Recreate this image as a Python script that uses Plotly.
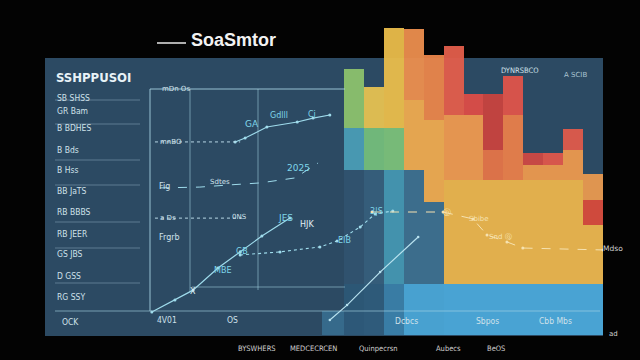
import plotly.graph_objects as go

W, H = 640, 360

# ---------------- data ----------------
categories = ["C01", "C02", "C03", "C04", "C05", "C06", "C07", "C08", "C09", "C10", "C11", "C12", "C13"]
seg_base = [10, 10, 10, 10, 10, 10, 10, 10, 10, 10, 10, 10, 10]
seg_low = [22.2, 22.2, 22.2, 22.2, 16.0, 20.3, 20.3, 20.3, 20.3, 20.3, 20.3, 20.3, 11.5]
seg_mid = [8.3, 8.3, 8.3, 13.7, 16.0, 12.7, 12.7, 5.9, 12.7, 2.9, 2.9, 5.9, 4.9]
seg_top = [11.5, 8.0, 19.5, 13.9, 12.7, 13.5, 4.1, 10.9, 7.6, 2.4, 2.4, 4.1, 5.1]

col_base = ["#2d5877", "#2f5b7b", "#3a7fa8", "#4aa6d6", "#4aa6d6", "#4ba8da", "#4ba8da", "#4ba8da",
            "#4ba8da", "#4ba8da", "#4ba8da", "#4ba8da", "#4ba8da"]
col_low = ["#31536f", "#365f7c", "#4596b2", "#3d6f8f", "#3d6f8f", "#ebb54c", "#ebb54c", "#ebb54c",
           "#ebb54c", "#ebb54c", "#ebb54c", "#ebb54c", "#ebb54c"]
col_mid = ["#4a9db6", "#74bd7c", "#7cc07a", "#eeaa50", "#eeaa50", "#ee9a4f", "#ee9a4f", "#e57548",
           "#e97f4a", "#ec9a4e", "#ec9a4e", "#ec9a4e", "#d84a3c"]
col_top = ["#8cc26d", "#e6c252", "#eabd4b", "#ec8f4e", "#ea854a", "#e35e4b", "#dc4d47", "#c8433f",
           "#e0544a", "#cf4844", "#e0574b", "#e05a4b", "#e99a50"]

# line series (x: 0-100 time index, y: 0-100 value)
l1_x = [0.4, 5.5, 9.5, 15.0, 19.9, 24.7, 30.9]
l1_y = [8.3, 12.6, 16.2, 24.2, 30.0, 35.7, 42.2]
l2_x = [19.9, 28.7, 37.5, 41.3, 46.4, 49.7, 53.6]
l2_y = [28.9, 30.0, 31.8, 33.9, 39.0, 43.7, 44.8]
l3_x = [18.8, 21.0, 25.8, 32.5, 36.0, 39.7]
l3_y = [69.7, 71.1, 75.1, 76.9, 78.3, 79.4]
l4_x = [2.2, 11.0, 17.7, 24.3, 32.0, 37.1]
l4_y = [53.1, 53.4, 54.2, 54.9, 56.7, 62.1]
l5_x = [39.7, 43.5, 50.8, 59.2]
l5_y = [5.4, 10.8, 22.7, 35.4]
l6_x = [49.0, 64.7, 71.3, 74.4, 78.8, 82.3, 100.0]
l6_y = [44.4, 44.4, 41.9, 36.1, 33.6, 31.4, 30.7]
ref_a_x = [1.1, 21.0]
ref_a_y = [42.2, 42.2]
ref_b_x = [1.1, 19.9]
ref_b_y = [69.7, 69.7]

title_text = "SoaSmtor"
panel_title = "SSHPPUSOI"
row_labels = ["SB SHSS", "GR Bam", "B BDHES", "B Bds", "B Hss", "BB JaTS", "RB BBBS",
              "RB JEER", "GS JBS", "D GSS", "RG SSY"]
bottom_in = ["OCK", "4V01", "OS", "Dcbcs", "Sbpos", "Cbb Mbs"]
bottom_out = ["BYSWHERS", "MEDCECRCEN", "Quinpecrsn", "Aubecs", "BeOS"]


def px(x):
    return x / W


def py(y):
    return 1 - y / H


fig = go.Figure()

# ---------------- bars ----------------
for vals, cols in [(seg_base, col_base), (seg_low, col_low), (seg_mid, col_mid), (seg_top, col_top)]:
    fig.add_trace(go.Bar(x=categories, y=vals, marker=dict(color=cols, line=dict(width=0)),
                         opacity=0.95, xaxis="x", yaxis="y", showlegend=False, hoverinfo="skip"))

# ---------------- lines ----------------
cyan = "#9fdcec"
fig.add_trace(go.Scatter(x=l1_x, y=l1_y, mode="lines+markers", line=dict(color=cyan, width=1.2),
                         marker=dict(size=3, color=cyan), xaxis="x2", yaxis="y2", showlegend=False))
fig.add_trace(go.Scatter(x=l2_x, y=l2_y, mode="lines+markers", line=dict(color=cyan, width=1.1, dash="dot"),
                         marker=dict(size=3, color=cyan), xaxis="x2", yaxis="y2", showlegend=False))
fig.add_trace(go.Scatter(x=l3_x, y=l3_y, mode="lines+markers", line=dict(color=cyan, width=1.1),
                         marker=dict(size=3, color=cyan), xaxis="x2", yaxis="y2", showlegend=False))
fig.add_trace(go.Scatter(x=l4_x, y=l4_y, mode="lines", line=dict(color=cyan, width=1, dash="dash"),
                         xaxis="x2", yaxis="y2", showlegend=False))
fig.add_trace(go.Scatter(x=l5_x, y=l5_y, mode="lines+markers", line=dict(color="#b8e2ef", width=1.2),
                         marker=dict(size=2.5, color="#b8e2ef"), xaxis="x2", yaxis="y2", showlegend=False))
fig.add_trace(go.Scatter(x=l6_x, y=l6_y, mode="lines+markers", line=dict(color="#f6e2b0", width=1, dash="dash"),
                         marker=dict(size=3, color="#f6e2b0"), xaxis="x2", yaxis="y2", showlegend=False))
fig.add_trace(go.Scatter(x=ref_a_x, y=ref_a_y, mode="lines", line=dict(color="#b8d8e6", width=1, dash="dot"),
                         xaxis="x2", yaxis="y2", showlegend=False))
fig.add_trace(go.Scatter(x=ref_b_x, y=ref_b_y, mode="lines", line=dict(color="#b8d8e6", width=1, dash="dot"),
                         xaxis="x2", yaxis="y2", showlegend=False))

# ---------------- shapes ----------------
shapes = []
shapes.append(dict(type="rect", xref="paper", yref="paper", x0=px(45), x1=px(603), y0=py(336), y1=py(58),
                   fillcolor="#2c4a63", line=dict(width=0), layer="below"))
shapes.append(dict(type="rect", xref="paper", yref="paper", x0=px(322), x1=px(402), y0=py(335), y1=py(311),
                   fillcolor="rgba(74,166,214,0.35)", line=dict(width=0), layer="below"))
frame = "rgba(170,215,230,0.85)"


def seg(x0, y0, x1, y1, color=frame, w=1):
    shapes.append(dict(type="line", xref="paper", yref="paper", x0=px(x0), y0=py(y0), x1=px(x1), y1=py(y1),
                       line=dict(color=color, width=w), layer="above"))


seg(150, 89, 150, 311)
seg(150, 89, 345, 89)
seg(190, 89, 190, 292, "rgba(170,215,230,0.55)")
seg(258, 89, 258, 290, "rgba(170,215,230,0.55)")
seg(192, 287, 345, 287, "rgba(170,215,230,0.55)")
seg(55, 311, 600, 311, "rgba(170,215,230,0.6)")
for yy in [100, 124, 160, 185, 222, 248, 283]:
    seg(55, yy, 140, yy, "rgba(150,185,205,0.45)")
seg(157, 43, 186, 43, "#e8e8e8", 1.5)

# ---------------- annotations ----------------
ann = []


def txt(x, y, s, size=10, color="#d4e6ef", anchor="left", bold=False, family="DejaVu Sans"):
    ann.append(dict(x=px(x), y=py(y), xref="paper", yref="paper", text=("<b>%s</b>" % s) if bold else s,
                    showarrow=False, xanchor=anchor, yanchor="middle",
                    font=dict(size=size, color=color, family=family)))


txt(189, 40, title_text, 18, "#f2f2f2", "left", True, "Liberation Sans")
txt(54, 77, panel_title, 13, "#e8f2f7", "left", True, "DejaVu Sans Condensed")
row_y = [98, 111, 128, 150, 170, 191, 212, 234, 254, 276, 297]
for s, yy in zip(row_labels, row_y):
    txt(55, yy, s, 8.5, "#cfe1ea", family="DejaVu Sans Condensed")
for s, (xx, yy) in zip(bottom_in, [(70, 322), (167, 320), (232, 320), (406, 321), (487, 321), (555, 321)]):
    txt(xx, yy, s, 8.5, "#cfe1ea", "center", family="DejaVu Sans Condensed")
for s, xx in zip(bottom_out, [257, 313, 378, 448, 496]):
    txt(xx, 348, s, 7.5, "#d0d0d0", "center", family="DejaVu Sans Condensed")
txt(613, 248, "Mdso", 7.5, "#d0d0d0", "center")
txt(613, 334, "ad", 7, "#d0d0d0", "center")
txt(519, 71, "DYNRSBCO", 7.5, "#cfe1ea", "center", family="DejaVu Sans Condensed")
txt(575, 75, "A SCIB", 7, "#aac4d2", "center")
c2 = "#7fd6ea"
txt(160, 89, "mDn Os", 7, "#cfe1ea")
txt(158, 142, "mnBO", 7, "#cfe1ea")
txt(243, 124, "GA", 9, c2)
txt(268, 116, "Gdlll", 8, c2)
txt(306, 115, "Ci", 8, c2)
txt(285, 168, "2025", 9, c2)
txt(208, 182, "Sdtes", 7, "#cfe1ea")
txt(157, 186, "Fig", 8, "#cfe1ea")
txt(158, 218, "a Ds", 7, "#cfe1ea")
txt(230, 217, "0NS", 7, "#cfe1ea")
txt(157, 237, "Frgrb", 8, "#cfe1ea")
txt(276, 218, "JES", 9, c2)
txt(298, 224, "HJK", 8, "#e0eef4")
txt(234, 252, "GB", 8, c2)
txt(212, 270, "MBE", 8, c2)
txt(188, 291, "X", 8, "#e0eef4")
txt(336, 241, "EIB", 8, c2)
txt(368, 211, "3|S", 8, c2)
txt(441, 212, "ⓑ", 8, "#f6e2b0")
txt(467, 219, "Sbibe", 7, "#f6e2b0")
txt(487, 237, "Snd Ⓖ", 7, "#f6e2b0")

fig.update_layout(
    width=W, height=H,
    margin=dict(l=0, r=0, t=0, b=0),
    paper_bgcolor="#030303", plot_bgcolor="rgba(0,0,0,0)",
    barmode="stack", bargap=0,
    xaxis=dict(domain=[px(344), px(603)], visible=False, fixedrange=True),
    yaxis=dict(domain=[py(335), py(28)], range=[0, 60], visible=False),
    xaxis2=dict(domain=[px(150), px(603)], range=[0, 100], visible=False, anchor="y2"),
    yaxis2=dict(domain=[py(335), py(58)], range=[0, 100], visible=False, anchor="x2"),
    shapes=shapes, annotations=ann, showlegend=False,
)

fig.write_html("out.html")
